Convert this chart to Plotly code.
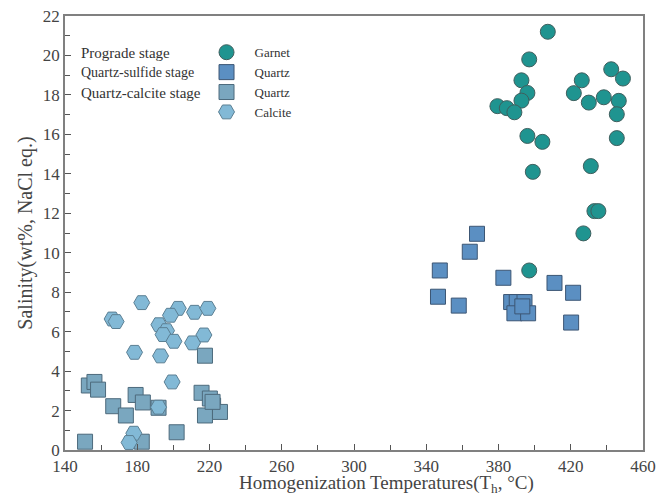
import plotly.graph_objects as go

# ---------------- data ----------------
garnet_t = [407.3, 397.0, 392.7, 396.0, 392.7, 379.4, 384.6, 388.8, 396.0, 404.3,
            426.1, 442.4, 448.9, 421.7, 430.0, 438.3, 446.6, 445.5, 445.5,
            399.0, 431.1, 433.1, 435.3, 427.0, 397.0]
garnet_s = [21.2, 19.8, 18.74, 18.1, 17.71, 17.43, 17.33, 17.12, 15.92, 15.62,
            18.74, 19.3, 18.83, 18.09, 17.61, 17.88, 17.7, 17.02, 15.81,
            14.1, 14.39, 12.11, 12.11, 10.98, 9.1]

qs_t = [368.1, 364.1, 347.5, 346.5, 358.0, 382.7, 411.0, 421.3, 420.2,
        387.0, 390.1, 394.4, 388.8, 396.4, 393.2]
qs_s = [10.96, 10.05, 9.1, 7.77, 7.32, 8.73, 8.47, 7.97, 6.46,
        7.5, 7.5, 7.5, 6.93, 6.93, 7.28]

qc_t = [151.1, 153.2, 156.3, 158.3, 166.7, 173.7, 179.1, 183.1, 182.5, 191.8,
        217.5, 215.6, 220.2, 222.0, 217.5, 225.8, 221.7, 201.8]
qc_s = [0.42, 3.27, 3.45, 3.06, 2.22, 1.75, 2.79, 2.41, 0.42, 2.14,
        4.78, 2.9, 2.61, 2.25, 1.75, 1.93, 2.44, 0.9]

ca_t = [182.5, 166.1, 168.3, 178.5, 192.9, 178.1, 175.5, 191.8,
        202.7, 198.4, 211.7, 219.1, 192.0, 196.2, 194.3, 200.3, 216.9, 210.6, 199.3]
ca_s = [7.47, 6.64, 6.51, 4.95, 4.77, 0.85, 0.38, 2.17,
        7.18, 6.83, 6.98, 7.18, 6.35, 6.05, 5.85, 5.51, 5.83, 5.43, 3.45]

stage_labels = ["Prograde stage", "Quartz-sulfide stage", "Quartz-calcite stage"]
x_ticks = [140, 180, 220, 260, 300, 340, 380, 420, 460]
y_ticks = list(range(0, 23, 2))
x_title = "Homogenization Temperatures(T<sub>h</sub>, °C)"
y_title = "Salinity(wt%, NaCl eq.)"

FONT = "Liberation Serif"

fig = go.Figure()
fig.add_trace(go.Scatter(x=qc_t, y=qc_s, mode="markers", name="Quartz",
                         marker=dict(symbol="square", size=15, color="#7aa7bf",
                                     line=dict(color="#4d6a7c", width=1)), legendrank=3))
fig.add_trace(go.Scatter(x=ca_t, y=ca_s, mode="markers", name="Calcite",
                         marker=dict(symbol="hexagon2", size=16, color="#82b9d6",
                                     line=dict(color="#5b7f93", width=1)), legendrank=4))
fig.add_trace(go.Scatter(x=qs_t, y=qs_s, mode="markers", name="Quartz",
                         marker=dict(symbol="square", size=15, color="#5b8fc2",
                                     line=dict(color="#3c5674", width=1)), legendrank=2))
fig.add_trace(go.Scatter(x=garnet_t, y=garnet_s, mode="markers", name="Garnet",
                         marker=dict(symbol="circle", size=15, color="#1f9490",
                                     line=dict(color="#3f5f5e", width=1)), legendrank=1))

axis_common = dict(showline=True, linecolor="#808080", linewidth=1.5, mirror=True,
                   ticks="inside", ticklen=6, tickcolor="#555", tickwidth=1,
                   showgrid=False, zeroline=False, automargin=False,
                   tickfont=dict(family=FONT, size=17, color="#444"))

fig.update_xaxes(range=[140, 460], tickvals=x_ticks,
                 minor=dict(dtick=20, ticks="inside", ticklen=5, tickcolor="#555"),
                 **axis_common)
fig.update_yaxes(range=[0, 22], tickvals=y_ticks,
                 minor=dict(dtick=1, ticks="inside", ticklen=5, tickcolor="#555"),
                 title=dict(text=y_title,
                            font=dict(family=FONT, size=20, color="#444"), standoff=5),
                 **axis_common)

# x-axis title (placed as in the reference, slightly right of centre)
fig.add_annotation(text=x_title, xref="paper", yref="paper", x=0.557, y=-0.079,
                   xanchor="center", yanchor="middle", showarrow=False,
                   font=dict(family=FONT, size=19, color="#444"))

ys = [0.9148, 0.8695, 0.8235]
sizes = [15, 14, 15]
for lab, yy, sz in zip(stage_labels, ys, sizes):
    fig.add_annotation(text=lab, xref="paper", yref="paper", x=0.0244, y=yy,
                       xanchor="left", yanchor="middle", showarrow=False,
                       font=dict(family=FONT, size=sz, color="#333"))

fig.update_layout(
    width=658, height=495,
    margin=dict(l=65, r=15, t=16, b=45),
    paper_bgcolor="white", plot_bgcolor="white",
    font=dict(family=FONT),
    legend=dict(x=0.231, y=0.951, xanchor="left", yanchor="top",
                font=dict(family=FONT, size=13, color="#333"),
                itemwidth=46, bgcolor="rgba(0,0,0,0)", tracegroupgap=0),
)

fig.write_html("out.html")
